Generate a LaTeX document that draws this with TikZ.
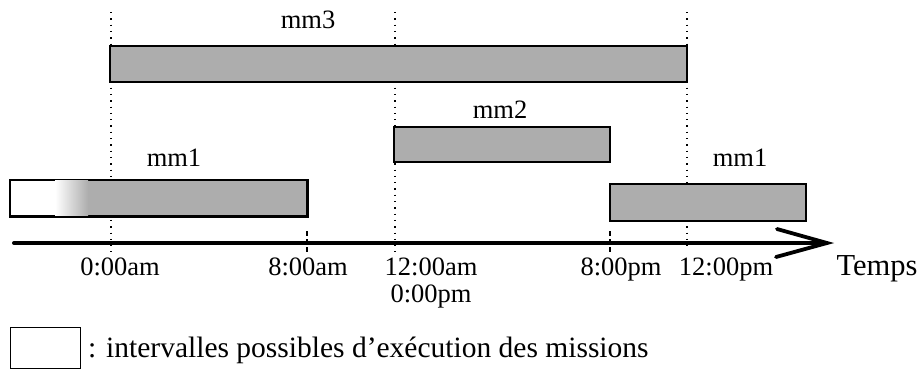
\documentclass[tikz,border=0pt]{standalone}
\usepackage{fontspec}
\setmainfont{Liberation Serif}
\begin{document}
\begin{tikzpicture}[x=1pt,y=-1pt,
  bar/.style={draw=black,line width=1.5pt,fill=black!32,inner sep=0pt},
  lbl/.style={anchor=base,inner sep=0pt,font=\fontsize{26.5}{30}\selectfont},
  biglbl/.style={anchor=base,inner sep=0pt,font=\fontsize{30.5}{34}\selectfont},
  legfont/.style={anchor=base west,inner sep=0pt,font=\fontsize{29.5}{34}\selectfont},
  guide/.style={line width=1.3pt,dash pattern=on 1.3pt off 5pt},
  tickmark/.style={line width=1.3pt,dash pattern=on 5pt off 3pt}]
\useasboundingbox (0,0) rectangle (920,373);
% guide lines
\coordinate (g1t) at (111,12); \coordinate (g1b) at (111,252);
\coordinate (g2t) at (395,12); \coordinate (g2b) at (395,252);
\coordinate (g3t) at (687,12); \coordinate (g3b) at (687,250);
\draw[guide] (g1t) -- (g1b);
\draw[guide] (g2t) -- (g2b);
\draw[guide] (g3t) -- (g3b);
% bars
\node[bar,minimum width=577pt,minimum height=36pt] (mm3) at (398.5,64) {};
\node[bar,minimum width=216pt,minimum height=35pt] (mm2) at (502,144.5) {};
\node[bar,minimum width=196pt,minimum height=37pt] (mm1b) at (708,202.5) {};
\node[bar,minimum width=297pt,minimum height=36pt] (mm1a) at (158.5,198) {};
\fill[white] (10.7,180.7) rectangle (55,215.3);
\shade[left color=white,right color=black!32] (55,180.7) rectangle (88,215.3);
\draw[line width=1.5pt] (mm1a.south west) rectangle (mm1a.north east);
% labels
\node[lbl] (t3) at (308,28) {mm3};
\node[lbl] (t2) at (500,118) {mm2};
\node[lbl] (t1a) at (174,166) {mm1};
\node[lbl] (t1b) at (740,166) {mm1};
% axis
\coordinate (ax0) at (14,243);
\coordinate (ax1) at (822,243);
\draw[line width=4pt,line cap=round] (ax0) -- (ax1);
\coordinate (ah1) at (777,229);
\coordinate (ah2) at (827,243);
\coordinate (ah3) at (776,257);
\draw[line width=3.8pt,line cap=round,line join=miter] (ah1) -- (ah2) -- (ah3);
% ticks
\coordinate (k1t) at (307,231); \coordinate (k1b) at (307,253);
\coordinate (k2t) at (610,231); \coordinate (k2b) at (610,253);
\draw[tickmark] (k1t) -- (k1b);
\draw[tickmark] (k2t) -- (k2b);
% axis labels
\node[lbl] (l0) at (120,275) {0:00am};
\node[lbl] (l8) at (308,275) {8:00am};
\node[lbl] (l12) at (431,275) {12:00am};
\node[lbl] (l0p) at (431,302) {0:00pm};
\node[lbl] (l8p) at (621,275) {8:00pm};
\node[lbl] (l12p) at (726,275) {12:00pm};
\node[biglbl] (lt) at (877,275) {Temps};
% legend
\node[draw,line width=1pt,minimum width=70pt,minimum height=41pt,inner sep=0pt] (leg) at (45,347.5) {};
\node[legfont] (legt) at (88,357) {: intervalles possibles d’exécution des missions};
\end{tikzpicture}
\end{document}
